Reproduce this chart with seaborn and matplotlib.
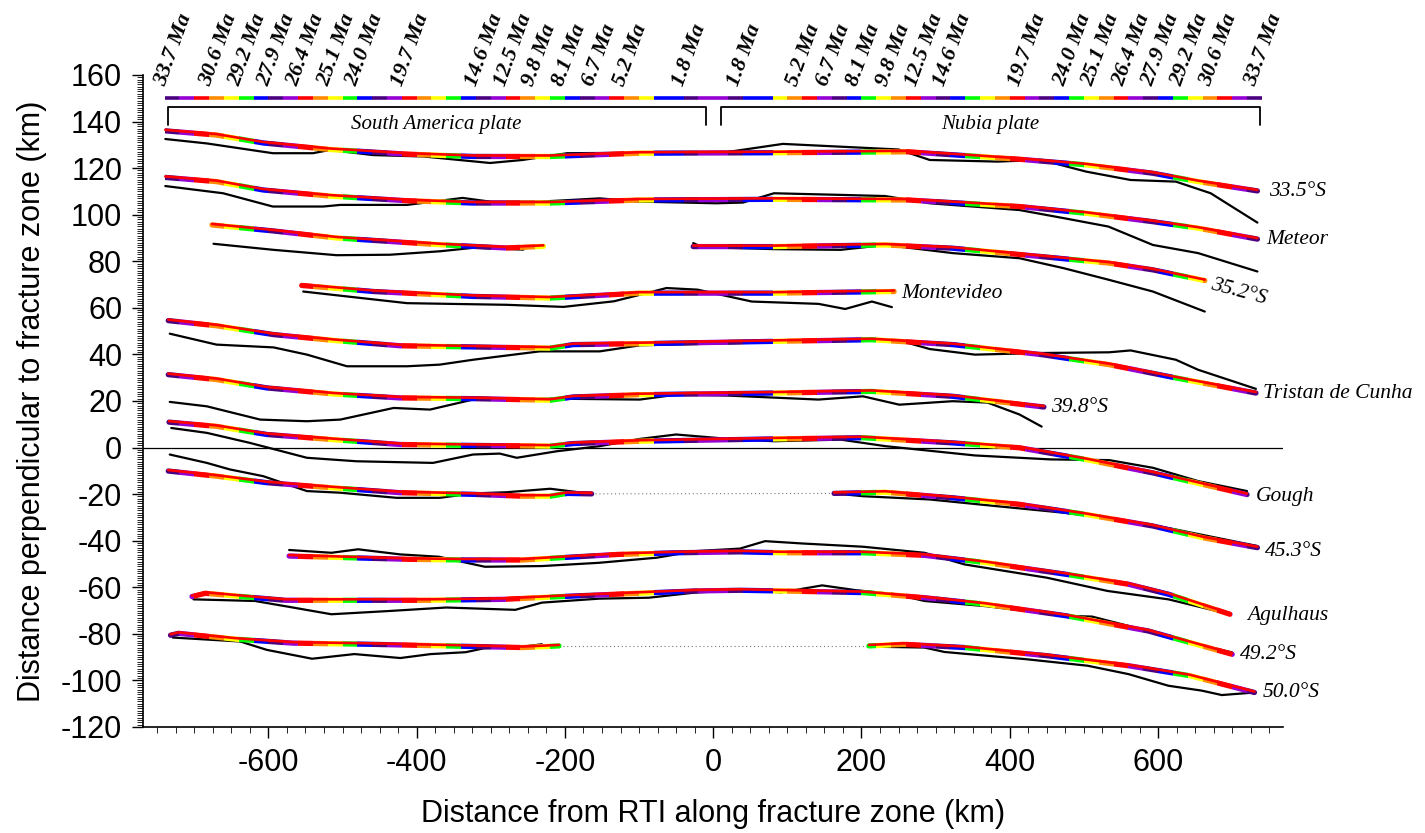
import matplotlib
matplotlib.use("Agg")
import matplotlib.pyplot as plt
import matplotlib.transforms as mtransforms
from matplotlib.path import Path
from matplotlib.ticker import MultipleLocator
import seaborn as sns

# colour chart of the isochrons, one colour per 20 km outward from the RTI
bar_step = 20
bar_seq = ["V", "I", "B", "B", "Y", "O", "R",
           "V", "I", "B", "G", "Y", "O", "R",
           "V", "I", "B", "G", "Y", "O", "R",
           "V", "I", "B", "G", "Y", "O", "R",
           "V", "I", "B", "G", "Y", "O", "R",
           "V", "I"]
palette = {"V": "#9400d3", "I": "#4b0082", "B": "#0000ff", "G": "#00ff00",
           "Y": "#ffff00", "O": "#ff8c00", "R": "#ff0000"}

age_labels = ["1.8", "5.2", "6.7", "8.1", "9.8", "12.5", "14.6", "19.7",
              "24.0", "25.1", "26.4", "27.9", "29.2", "30.6", "33.7"]
age_dist = [37, 117, 158, 198, 238.5, 277, 315.5, 416,
            477, 515.5, 557, 596, 635, 674, 735]

plates = ["South America plate", "Nubia plate"]
plate_x0 = [-736, 10]
plate_x1 = [-10, 737]

# profiles: model (coloured) and observed (black) traces, km
a335_mod_x = [-739, -670, -607, -517, -413, -324, -220, -99, 82, 263, 413, 503, 593, 654, 734]
a335_mod_y = [136.0, 134.2, 130.8, 128.0, 126.0, 125.0, 125.0, 126.4, 126.6, 127.0, 123.8, 121.4, 117.8, 114.2, 110.2]
a335_obs_x = [-739, -683, -594, -540, -517, -459, -391, -301, -257, -197, -99, 21, 94, 172, 250, 292,
              383, 443, 503, 563, 624, 671, 734]
a335_obs_y = [132.5, 130.6, 126.4, 126.4, 127.8, 125.6, 125.0, 122.2, 123.5, 126.4, 126.6, 127.0, 130.4,
              129.2, 128.0, 123.5, 122.8, 123.5, 118.5, 114.9, 114.2, 109.2, 96.6]

met_mod_x = [-739, -670, -607, -517, -413, -324, -220, -99, 82, 263, 413, 503, 593, 654, 734]
met_mod_y = [116.0, 114.2, 110.6, 108.0, 106.0, 105.0, 105.0, 106.3, 106.6, 106.3, 103.5, 100.6, 97.0, 94.2, 89.5]
met_obs_x = [-739, -661, -594, -526, -503, -413, -368, -338, -301, -234, -153, -99, 4, 40, 82, 172,
             232, 292, 413, 473, 533, 593, 654, 734]
met_obs_y = [112.3, 109.2, 103.5, 103.5, 104.2, 104.2, 106.0, 107.2, 105.6, 105.6, 107.0, 105.6, 104.9,
             105.2, 109.2, 108.5, 108.0, 104.9, 102.0, 98.5, 94.9, 87.0, 83.5, 75.6]

s352_mod_sa_x = [-676, -593, -508, -369, -279, -229]
s352_mod_sa_y = [95.6, 93.0, 90.0, 87.1, 85.7, 86.4]
s352_obs_sa_x = [-674, -593, -508, -436, -368, -323, -256]
s352_obs_sa_y = [87.5, 84.9, 82.6, 82.8, 84.3, 85.8, 85.0]
s352_mod_nu_x = [-27, 82, 232, 323, 443, 534, 593, 663]
s352_mod_nu_y = [86.3, 86.3, 87.0, 85.6, 82.0, 79.2, 76.3, 71.7]
s352_obs_nu_x = [-27, -15, 82, 172, 232, 323, 413, 473, 534, 593, 663]
s352_obs_nu_y = [87.8, 86.1, 85.2, 84.9, 87.0, 83.5, 81.3, 77.0, 72.0, 67.0, 58.4]

mvd_mod_x = [-555, -458, -324, -220, -99, 82, 244]
mvd_mod_y = [69.6, 67.0, 64.9, 64.2, 66.3, 66.3, 67.0]
mvd_obs_x = [-553, -413, -279, -202, -134, -99, -63, -21, 52, 142, 178, 214, 241]
mvd_obs_y = [67.0, 62.0, 61.3, 60.4, 62.8, 65.6, 68.5, 67.8, 62.7, 61.7, 59.5, 62.7, 60.3]

tdc_mod_x = [-735, -670, -593, -512, -422, -324, -220, -189, -99, 82, 214, 323, 443, 534, 624, 732]
tdc_mod_y = [54.5, 52.3, 48.5, 46.0, 43.7, 43.2, 42.7, 44.2, 44.6, 45.6, 46.3, 44.2, 39.9, 35.6, 29.9, 23.4]
tdc_obs_x = [-733, -670, -593, -548, -494, -413, -369, -324, -234, -153, -99, 82, 202, 263, 292, 353,
             443, 534, 563, 624, 654, 732]
tdc_obs_y = [48.9, 44.2, 43.0, 39.9, 34.9, 34.9, 35.6, 37.7, 41.3, 41.3, 43.9, 45.2, 46.6, 44.9, 42.3,
             39.9, 40.6, 40.9, 41.7, 37.7, 33.4, 25.2]

s398_mod_x = [-735, -670, -602, -512, -422, -324, -220, -189, -99, 82, 214, 323, 446]
s398_mod_y = [31.3, 29.2, 25.6, 23.0, 21.3, 21.0, 20.3, 21.7, 22.7, 23.4, 24.1, 22.0, 17.4]
s398_obs_x = [-733, -683, -611, -548, -503, -431, -382, -324, -220, -99, -50, 21, 142, 202, 251, 323,
              370, 413, 443]
s398_obs_y = [19.6, 17.7, 12.0, 11.3, 12.0, 17.0, 16.3, 20.6, 21.0, 20.6, 22.7, 22.3, 20.6, 22.0, 18.4,
              19.9, 19.3, 14.2, 9.0]

gou_mod_x = [-734, -670, -602, -513, -422, -324, -220, -189, -99, 82, 202, 323, 413, 502, 593, 720]
gou_mod_y = [10.9, 9.1, 5.6, 3.4, 1.3, 0.9, 0.6, 1.7, 2.7, 3.7, 4.2, 2.0, -0.1, -5.1, -10.9, -20.2]
gou_obs_x = [-731, -683, -625, -548, -481, -378, -324, -288, -265, -211, -153, -99, -50, 21, 82, 172,
             232, 353, 455, 534, 593, 654, 720]
gou_obs_y = [8.4, 6.3, 2.0, -4.4, -5.9, -6.6, -3.0, -2.6, -4.4, -1.6, 0.6, 3.7, 5.6, 3.7, 2.7, 3.4,
             0.6, -3.4, -5.1, -5.4, -8.7, -14.4, -18.7]

s453_mod_sa_x = [-735, -670, -602, -513, -422, -324, -257, -220, -197, -164]
s453_mod_sa_y = [-10.1, -12.3, -15.1, -17.3, -19.4, -20.1, -20.9, -20.9, -19.7, -19.9]
s453_obs_sa_x = [-733, -683, -652, -607, -548, -503, -427, -369, -324, -279, -220, -164]
s453_obs_sa_y = [-3.0, -6.6, -9.4, -12.3, -18.7, -19.4, -21.6, -21.6, -19.7, -19.2, -17.7, -19.9]
s453_mod_nu_x = [163, 232, 323, 413, 502, 593, 660, 734]
s453_mod_nu_y = [-19.7, -19.2, -21.6, -24.4, -28.7, -33.7, -38.7, -43.0]
s453_obs_nu_x = [163, 202, 292, 383, 473, 563, 624, 734]
s453_obs_nu_y = [-19.7, -20.9, -22.3, -25.2, -28.0, -31.6, -35.2, -42.3]

agu_mod_x = [-572, -494, -412, -335, -257, -205, -128, -50, 36, 92, 202, 285, 367, 477, 560, 614, 697]
agu_mod_y = [-46.6, -47.3, -48.0, -48.3, -48.3, -47.3, -45.9, -45.2, -44.8, -45.2, -45.2, -46.3, -49.4,
             -54.5, -58.7, -63.0, -71.6]
agu_obs_x = [-572, -515, -479, -422, -370, -308, -231, -154, -76, -25, 36, 70, 120, 202, 285, 339,
             450, 532, 614, 697]
agu_obs_y = [-44.0, -45.2, -43.7, -45.9, -46.9, -51.2, -50.9, -49.5, -47.3, -44.5, -43.4, -40.2, -41.2,
             -42.6, -45.2, -50.2, -55.9, -61.6, -65.2, -71.6]

s492_mod_x = [-703, -685, -618, -577, -489, -386, -283, -205, -102, -25, 36, 92, 202, 285, 367, 477, 587, 700]
s492_mod_y = [-64.0, -62.6, -64.5, -65.6, -65.6, -65.6, -65.2, -64.0, -62.6, -61.6, -61.3, -61.6, -62.3,
              -64.5, -67.3, -72.3, -78.8, -88.8]
s492_obs_x = [-701, -618, -567, -515, -437, -360, -267, -231, -154, -87, -25, 36, 92, 147, 191, 246,
              285, 367, 477, 511, 560, 614, 700]
s492_obs_y = [-65.2, -65.9, -68.7, -71.6, -70.2, -68.7, -69.7, -66.6, -64.9, -64.5, -62.3, -61.2, -62.2,
              -59.2, -61.2, -63.0, -65.9, -68.1, -72.3, -72.6, -76.6, -81.6, -88.0]

s500_mod_sa_x = [-732, -721, -644, -567, -463, -360, -257, -208]
s500_mod_sa_y = [-80.6, -79.8, -82.3, -84.0, -84.5, -85.2, -85.9, -85.2]
s500_obs_sa_x = [-729, -638, -602, -541, -484, -422, -381, -334, -309, -257, -231]
s500_obs_sa_y = [-81.6, -83.3, -86.9, -90.7, -88.7, -90.4, -88.7, -87.9, -86.2, -85.5, -84.5]
s500_mod_nu_x = [210, 257, 339, 450, 560, 643, 730]
s500_mod_nu_y = [-85.2, -84.5, -85.9, -89.4, -93.7, -98.0, -105.2]
s500_obs_nu_x = [210, 285, 312, 422, 505, 560, 614, 659, 686, 730]
s500_obs_nu_y = [-85.5, -85.9, -87.8, -90.9, -93.7, -97.3, -102.3, -104.4, -106.3, -105.2]

prof_names = ["33.5°S", "Meteor", "35.2°S", "Montevideo", "Tristan de Cunha", "39.8°S",
              "Gough", "45.3°S", "Agulhaus", "49.2°S", "50.0°S"]
name_x = [750, 746, 671, 253, 741, 455, 732, 744, 720, 711, 741]
name_y = [109.9, 89.2, 69.9, 66.3, 23.4, 17.0, -20.9, -44.5, -72.3, -88.8, -105.2]

model_parts = [(a335_mod_x, a335_mod_y), (met_mod_x, met_mod_y),
               (s352_mod_sa_x, s352_mod_sa_y), (s352_mod_nu_x, s352_mod_nu_y),
               (mvd_mod_x, mvd_mod_y), (tdc_mod_x, tdc_mod_y), (s398_mod_x, s398_mod_y),
               (gou_mod_x, gou_mod_y), (s453_mod_sa_x, s453_mod_sa_y), (s453_mod_nu_x, s453_mod_nu_y),
               (agu_mod_x, agu_mod_y), (s492_mod_x, s492_mod_y),
               (s500_mod_sa_x, s500_mod_sa_y), (s500_mod_nu_x, s500_mod_nu_y)]
obs_parts = [(a335_obs_x, a335_obs_y), (met_obs_x, met_obs_y),
             (s352_obs_sa_x, s352_obs_sa_y), (s352_obs_nu_x, s352_obs_nu_y),
             (mvd_obs_x, mvd_obs_y), (tdc_obs_x, tdc_obs_y), (s398_obs_x, s398_obs_y),
             (gou_obs_x, gou_obs_y), (s453_obs_sa_x, s453_obs_sa_y), (s453_obs_nu_x, s453_obs_nu_y),
             (agu_obs_x, agu_obs_y), (s492_obs_x, s492_obs_y),
             (s500_obs_sa_x, s500_obs_sa_y), (s500_obs_nu_x, s500_obs_nu_y)]
gaps = [(s453_mod_sa_x, s453_mod_sa_y, s453_mod_nu_x, s453_mod_nu_y),
        (s500_mod_sa_x, s500_mod_sa_y, s500_mod_nu_x, s500_mod_nu_y)]

sns.set_theme(style="ticks")
plt.rcParams["font.family"] = ["Liberation Sans", "DejaVu Sans"]
plt.rcParams["axes.unicode_minus"] = False
for key in ("text.color", "axes.labelcolor", "xtick.color", "ytick.color",
            "xtick.labelcolor", "ytick.labelcolor"):
    plt.rcParams[key] = "black"
serif = ["Liberation Serif", "DejaVu Serif"]

fig = plt.figure(figsize=(14.25, 8.33), dpi=100)
ax = fig.add_axes([0.1004, 0.1273, 0.8002, 0.7827])


def strip_path(letter):
    # vertical strips (both sides of the RTI) that carry one colour of the chart
    verts, codes = [], []
    for k, c in enumerate(bar_seq):
        if c != letter:
            continue
        for x0 in (k * bar_step, -(k + 1) * bar_step):
            x1 = x0 + bar_step
            verts += [(x0, -500), (x1, -500), (x1, 500), (x0, 500), (x0, -500)]
            codes += [Path.MOVETO, Path.LINETO, Path.LINETO, Path.LINETO, Path.CLOSEPOLY]
    return Path(verts, codes)


strips = {c: strip_path(c) for c in palette}
lift = mtransforms.ScaledTranslation(0, 1.0 / 100, fig.dpi_scale_trans)

ax.axhline(0, color="black", lw=0.9, zorder=1)

for xs, ys in obs_parts:
    sns.lineplot(x=xs, y=ys, sort=False, estimator=None, color="black", linewidth=1.6, ax=ax, zorder=2)

for x0s, y0s, x1s, y1s in gaps:
    ax.plot([x0s[-1], x1s[0]], [y0s[-1], y1s[0]], color="#777777", lw=0.8, ls=(0, (1, 2.5)), zorder=2)

for xs, ys in model_parts:
    for c in palette:
        sns.lineplot(x=xs, y=ys, sort=False, estimator=None, color=palette[c], linewidth=3.8, ax=ax, zorder=3)
        ln = ax.lines[-1]
        ln.set_solid_capstyle("round")
        ln.set_clip_path(strips[c], ax.transData)
    sns.lineplot(x=xs, y=ys, sort=False, estimator=None, color="#ff0000", linewidth=1.9, ax=ax, zorder=4)
    ax.lines[-1].set_transform(ax.transData + lift)

# colour chart bar and age labels
for k, c in enumerate(bar_seq):
    ax.hlines([150.3, 150.3], [k * bar_step, -(k + 1) * bar_step], [(k + 1) * bar_step, -k * bar_step],
              color=palette[c], lw=2.6, zorder=3)
for lab, d in zip(age_labels, age_dist):
    for x in (-d, d):
        ax.text(x - 4, 155, f"{lab} Ma", rotation=70, rotation_mode="anchor", ha="left", va="baseline",
                fontsize=16, family=serif, style="italic", weight="bold")

# plate brackets
for name, x0, x1 in zip(plates, plate_x0, plate_x1):
    ax.plot([x0, x0, x1, x1], [138.5, 146.2, 146.2, 138.5], color="black", lw=1.3, zorder=3)
    ax.text((x0 + x1) / 2, 138.7, name, ha="center", va="center", fontsize=15, family=serif, style="italic")

for name, x, y in zip(prof_names, name_x, name_y):
    rot = -15 if name == "35.2°S" else 0
    ax.text(x, y, name, ha="left", va="center", rotation=rot, rotation_mode="anchor",
            fontsize=15.5, family=serif, style="italic")

ax.set_xlim(-769, 769)
ax.set_ylim(-120, 160)
ax.xaxis.set_major_locator(MultipleLocator(200))
ax.xaxis.set_minor_locator(MultipleLocator(25))
ax.yaxis.set_major_locator(MultipleLocator(20))
ax.yaxis.set_minor_locator(MultipleLocator(1))
ax.tick_params(which="major", length=8, width=1.0, labelsize=22, pad=7, color="black")
ax.tick_params(which="minor", length=4, width=0.6, color="black")
sns.despine(ax=ax)
for s in ("left", "bottom"):
    ax.spines[s].set_linewidth(1.2)
    ax.spines[s].set_color("black")

ax.set_xlabel("Distance from RTI along fracture zone (km)", fontsize=22, labelpad=15)
ax.set_ylabel("Distance perpendicular to fracture zone (km)", fontsize=22, labelpad=10)

fig.savefig("out.png", dpi=100)
